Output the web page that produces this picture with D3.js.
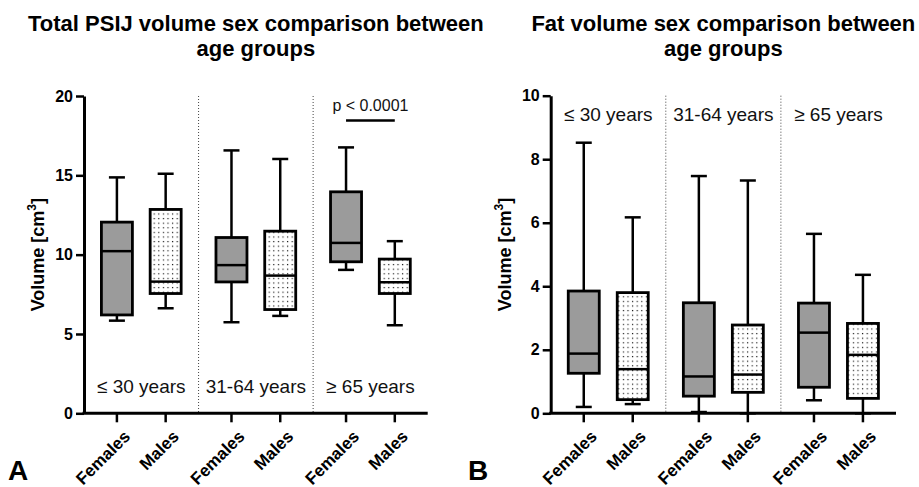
<!DOCTYPE html>
<html>
<head>
<meta charset="utf-8">
<script src="https://cdn.jsdelivr.net/npm/d3@7"></script>
<style>
  html, body { margin: 0; padding: 0; background: #fff; }
  svg { display: block; font-family: "Liberation Sans", Arial, sans-serif; }
</style>
</head>
<body>
<svg id="chart" width="919" height="487"></svg>
<script>
// ---------- data ----------
const groups = ["≤ 30 years", "31-64 years", "≥ 65 years"];
const sexes = ["Females", "Males"];

// order: F(≤30), M(≤30), F(31-64), M(31-64), F(≥65), M(≥65)
const totalMin    = [5.84, 6.62, 5.74, 6.14, 9.04, 5.55];
const totalQ1     = [6.20, 7.55, 8.28, 6.54, 9.55, 7.55];
const totalMedian = [10.22, 8.30, 9.34, 8.68, 10.74, 8.26];
const totalQ3     = [12.05, 12.85, 11.08, 11.48, 13.96, 9.72];
const totalMax    = [14.87, 15.10, 16.57, 16.03, 16.76, 10.85];

const fatMin    = [0.20, 0.29, 0.04, 0.00, 0.41, 0.00];
const fatQ1     = [1.26, 0.43, 0.54, 0.66, 0.82, 0.47];
const fatMedian = [1.88, 1.39, 1.16, 1.22, 2.54, 1.84];
const fatQ3     = [3.85, 3.80, 3.48, 2.78, 3.47, 2.83];
const fatMax    = [8.52, 6.17, 7.47, 7.33, 5.65, 4.36];

const totalTicks = [0, 5, 10, 15, 20];
const fatTicks = [0, 2, 4, 6, 8, 10];

const pLabel = "p < 0.0001";

// ---------- drawing ----------
const svg = d3.select("#chart");
const FONT = '"Liberation Sans", Arial, sans-serif';

const defs = svg.append("defs");
const pat = defs.append("pattern")
  .attr("id", "dots").attr("patternUnits", "userSpaceOnUse")
  .attr("width", 4.6).attr("height", 4.6);
pat.append("rect").attr("width", 4.6).attr("height", 4.6).attr("fill", "#fff");
pat.append("rect").attr("x", 1.8).attr("y", 1.8).attr("width", 1.2).attr("height", 1.2).attr("fill", "#222");

function panel(opts) {
  const { x0, x1, yTop, yBot, yMax, ticks, mins, q1s, meds, q3s, maxs,
          title1, title2, letter, letterX, ageY, ylabelX } = opts;
  const g = svg.append("g");

  const y = d3.scaleLinear().domain([0, yMax]).range([yBot, yTop]);
  const xg = d3.scaleBand().domain(groups).range([x0, x1]).paddingInner(0).paddingOuter(0);
  const xs = d3.scalePoint().domain(sexes).range([0, xg.bandwidth()]).padding(0.675);
  const cx = (i) => xg(groups[Math.floor(i / 2)]) + xs(sexes[i % 2]);
  const midX = (x0 + x1) / 2;

  // dividers
  g.selectAll("line.div").data(groups.slice(1)).join("line")
    .attr("x1", d => xg(d)).attr("x2", d => xg(d))
    .attr("y1", yTop).attr("y2", yBot)
    .attr("stroke", "#444").attr("stroke-width", 1).attr("stroke-dasharray", "1,2");

  // y axis
  const ya = g.append("g").attr("transform", `translate(${x0},0)`)
    .call(d3.axisLeft(y).tickValues(ticks).tickSize(8).tickSizeOuter(0).tickPadding(3));
  ya.select(".domain").attr("stroke", "#000").attr("stroke-width", 3);
  ya.selectAll(".tick line").attr("stroke", "#000").attr("stroke-width", 2.5);
  ya.selectAll(".tick text").attr("font-family", FONT).attr("font-size", 16)
    .attr("font-weight", "bold").attr("fill", "#000");

  // x axis baseline
  g.append("line").attr("x1", x0 - 1.5).attr("x2", x1).attr("y1", y(0)).attr("y2", y(0))
    .attr("stroke", "#000").attr("stroke-width", 3);

  const idx = d3.range(6);
  // x ticks
  g.selectAll("line.xt").data(idx).join("line")
    .attr("x1", cx).attr("x2", cx).attr("y1", y(0)).attr("y2", y(0) + 9)
    .attr("stroke", "#000").attr("stroke-width", 2.5);
  g.selectAll("text.xl").data(idx).join("text")
    .attr("transform", i => `translate(${cx(i) + 10},${y(0) + 20}) rotate(-45)`)
    .attr("text-anchor", "end").attr("dy", "0.35em")
    .attr("font-family", FONT).attr("font-size", 17).attr("font-weight", "bold")
    .text(i => sexes[i % 2]);

  // boxes
  const bw = 31, cw = 16;
  const bx = g.selectAll("g.box").data(idx).join("g");
  bx.append("line").attr("x1", cx).attr("x2", cx)
    .attr("y1", i => y(maxs[i])).attr("y2", i => y(q3s[i]))
    .attr("stroke", "#000").attr("stroke-width", 2.5);
  bx.append("line").attr("x1", cx).attr("x2", cx)
    .attr("y1", i => y(q1s[i])).attr("y2", i => y(mins[i]))
    .attr("stroke", "#000").attr("stroke-width", 2.5);
  bx.append("line").attr("x1", i => cx(i) - cw / 2).attr("x2", i => cx(i) + cw / 2)
    .attr("y1", i => y(maxs[i])).attr("y2", i => y(maxs[i]))
    .attr("stroke", "#000").attr("stroke-width", 2.5);
  bx.append("line").attr("x1", i => cx(i) - cw / 2).attr("x2", i => cx(i) + cw / 2)
    .attr("y1", i => y(mins[i])).attr("y2", i => y(mins[i]))
    .attr("stroke", "#000").attr("stroke-width", 2.5);
  bx.append("rect")
    .attr("x", i => cx(i) - bw / 2).attr("width", bw)
    .attr("y", i => y(q3s[i])).attr("height", i => y(q1s[i]) - y(q3s[i]))
    .attr("fill", i => i % 2 === 0 ? "#9b9b9b" : "url(#dots)")
    .attr("stroke", "#000").attr("stroke-width", 2.8);
  bx.append("line").attr("x1", i => cx(i) - bw / 2).attr("x2", i => cx(i) + bw / 2)
    .attr("y1", i => y(meds[i])).attr("y2", i => y(meds[i]))
    .attr("stroke", "#000").attr("stroke-width", 2.5);

  // age group labels
  g.selectAll("text.age").data(groups).join("text")
    .attr("x", d => xg(d) + xg.bandwidth() / 2).attr("y", ageY)
    .attr("text-anchor", "middle").attr("font-family", FONT).attr("font-size", 19)
    .attr("fill", "#111").text(d => d);

  // y label
  const yl = g.append("text")
    .attr("transform", `translate(${ylabelX},${(yTop + yBot) / 2}) rotate(-90)`)
    .attr("text-anchor", "middle").attr("font-family", FONT).attr("font-size", 18)
    .attr("font-weight", "bold");
  yl.append("tspan").text("Volume [cm");
  yl.append("tspan").attr("dy", -8).attr("font-size", 12).text("3");
  yl.append("tspan").attr("dy", 8).text("]");

  // title
  g.append("text").attr("x", midX).attr("y", 31).attr("text-anchor", "middle")
    .attr("font-family", FONT).attr("font-size", 22).attr("font-weight", "bold").text(title1);
  g.append("text").attr("x", midX).attr("y", 56).attr("text-anchor", "middle")
    .attr("font-family", FONT).attr("font-size", 22).attr("font-weight", "bold").text(title2);

  // panel letter
  g.append("text").attr("x", letterX).attr("y", 480)
    .attr("font-family", FONT).attr("font-size", 28).attr("font-weight", "bold").text(letter);

  return { g, y, cx };
}

const A = panel({
  x0: 84, x1: 427.7, yTop: 96, yBot: 413.3, yMax: 20, ticks: totalTicks,
  mins: totalMin, q1s: totalQ1, meds: totalMedian, q3s: totalQ3, maxs: totalMax,
  title1: "Total PSIJ volume sex comparison between", title2: "age groups",
  letter: "A", letterX: 8, ageY: 393, ylabelX: 44
});

// significance bar (≥65: Females vs Males)
const pY = A.y(18.45);
A.g.append("line").attr("x1", A.cx(4)).attr("x2", A.cx(5)).attr("y1", pY).attr("y2", pY)
  .attr("stroke", "#000").attr("stroke-width", 2.5);
A.g.append("text").attr("x", (A.cx(4) + A.cx(5)) / 2).attr("y", pY - 9.5)
  .attr("text-anchor", "middle").attr("font-family", FONT).attr("font-size", 16)
  .attr("fill", "#111").text(pLabel);

panel({
  x0: 550.7, x1: 896, yTop: 95.7, yBot: 413.3, yMax: 10, ticks: fatTicks,
  mins: fatMin, q1s: fatQ1, meds: fatMedian, q3s: fatQ3, maxs: fatMax,
  title1: "Fat volume sex comparison between", title2: "age groups",
  letter: "B", letterX: 468, ageY: 120.5, ylabelX: 511
});
</script>
</body>
</html>
